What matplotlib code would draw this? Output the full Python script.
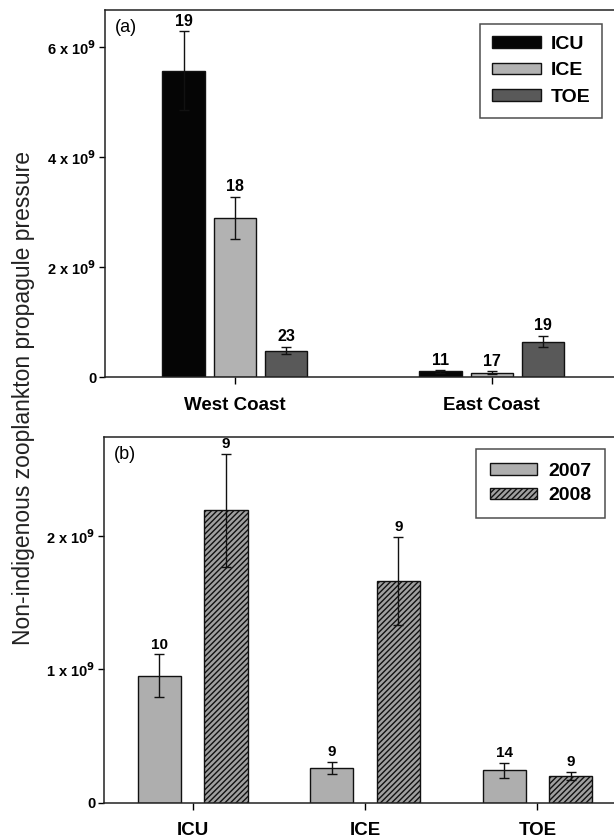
import numpy as np
import matplotlib
matplotlib.use("Agg")
import matplotlib.pyplot as plt
from matplotlib.ticker import FixedLocator, FixedFormatter

plt.rcParams['font.family'] = ['Liberation Sans', 'DejaVu Sans']
plt.rcParams['hatch.linewidth'] = 1.0
plt.rcParams['hatch.color'] = '#2b2b2b'

# panel (a) data
coasts = ['West Coast', 'East Coast']
a_series = ['ICU', 'ICE', 'TOE']
a_vals = {'ICU': [5.58e9, 0.11e9], 'ICE': [2.90e9, 0.09e9], 'TOE': [0.49e9, 0.65e9]}
a_err = {'ICU': [0.71e9, 0.02e9], 'ICE': [0.39e9, 0.02e9], 'TOE': [0.07e9, 0.10e9]}
a_n = {'ICU': [19, 11], 'ICE': [18, 17], 'TOE': [23, 19]}
a_colors = {'ICU': '#050505', 'ICE': '#b2b2b2', 'TOE': '#595959'}

# panel (b) data
vectors = ['ICU', 'ICE', 'TOE']
years = ['2007', '2008']
b_vals = {'2007': [0.95e9, 0.26e9, 0.24e9], '2008': [2.19e9, 1.66e9, 0.20e9]}
b_err = {'2007': [0.16e9, 0.045e9, 0.055e9], '2008': [0.425e9, 0.33e9, 0.03e9]}
b_n = {'2007': [10, 9, 14], '2008': [9, 9, 9]}

a_ticks = [0, 2e9, 4e9, 6e9]
a_ticklabels = ['0', r'2 x 10$^{\mathbf{9}}$', r'4 x 10$^{\mathbf{9}}$', r'6 x 10$^{\mathbf{9}}$']
b_ticks = [0, 1e9, 2e9]
b_ticklabels = ['0', r'1 x 10$^{\mathbf{9}}$', r'2 x 10$^{\mathbf{9}}$']

fig = plt.figure(figsize=(6.14, 8.4), dpi=100)
ax1 = fig.add_axes([105/614, 1-377.5/840, 1-105/614+0.01, 367.5/840])
ax2 = fig.add_axes([104/614, 1-802.5/840, 1-104/614+0.01, 365.5/840])

def style(ax):
    ax.spines['right'].set_visible(False)
    for s in ['left', 'bottom', 'top']:
        ax.spines[s].set_linewidth(1.1)
        ax.spines[s].set_color('#222222')
    ax.tick_params(axis='y', direction='out', length=4, width=1, pad=2)
    ax.tick_params(axis='x', direction='out', length=5, width=1, pad=9)
    for lab in ax.get_yticklabels():
        lab.set_fontsize(10.5)
        lab.set_fontweight('bold')
    for lab in ax.get_xticklabels():
        lab.set_fontsize(13.5)
        lab.set_fontweight('bold')

# ---- (a)
x = np.arange(len(coasts))
w = 0.165
for i, s in enumerate(a_series):
    xs = x + (i - 1) * 0.2
    ax1.bar(xs, a_vals[s], w, color=a_colors[s], edgecolor='#111111', linewidth=1.0, label=s, zorder=2)
    ax1.errorbar(xs, a_vals[s], yerr=a_err[s], fmt='none', ecolor='#111111', elinewidth=1.0,
                 capsize=3.5, capthick=1.0, zorder=3)
    for xi, v, e, n in zip(xs, a_vals[s], a_err[s], a_n[s]):
        ax1.annotate(str(n), (xi, v + e), xytext=(0, 2), textcoords='offset points',
                     ha='center', va='bottom', fontsize=11.5, fontweight='bold')
ax1.set_xlim(-0.506, 1.50)
ax1.set_ylim(0, 6.68e9)
ax1.set_xticks(x)
ax1.set_xticklabels(coasts)
ax1.yaxis.set_major_locator(FixedLocator(a_ticks))
ax1.yaxis.set_major_formatter(FixedFormatter(a_ticklabels))
style(ax1)
ax1.text(0.02, 0.975, '(a)', transform=ax1.transAxes, ha='left', va='top', fontsize=13)
leg1 = ax1.legend(loc='upper left', bbox_to_anchor=(371/509, 0.962), frameon=True, fancybox=False,
                  prop={'size': 14, 'weight': 'bold'}, handlelength=2.5, handleheight=0.55,
                  handletextpad=0.5, labelspacing=0.5, borderpad=0.6, borderaxespad=0)
leg1.get_frame().set_edgecolor('#222222')
leg1.get_frame().set_linewidth(1.1)

# ---- (b)
xb = np.arange(len(vectors))
wb = 0.25
b_style = {'2007': dict(color='#aeaeae', hatch=None), '2008': dict(color='#a0a0a0', hatch='//////')}
for i, yr in enumerate(years):
    xs = xb + (i - 0.5) * 0.386
    ax2.bar(xs, b_vals[yr], wb, color=b_style[yr]['color'], hatch=b_style[yr]['hatch'],
            edgecolor='#111111', linewidth=1.0, label=yr, zorder=2)
    ax2.errorbar(xs, b_vals[yr], yerr=b_err[yr], fmt='none', ecolor='#111111', elinewidth=1.0,
                 capsize=3.5, capthick=1.0, zorder=3)
    for xi, v, e, n in zip(xs, b_vals[yr], b_err[yr], b_n[yr]):
        ax2.annotate(str(n), (xi, v + e), xytext=(0, 2), textcoords='offset points',
                     ha='center', va='bottom', fontsize=11, fontweight='bold')
ax2.set_xlim(-0.515, 2.48)
ax2.set_ylim(0, 2.74e9)
ax2.set_xticks(xb)
ax2.set_xticklabels(vectors)
ax2.yaxis.set_major_locator(FixedLocator(b_ticks))
ax2.yaxis.set_major_formatter(FixedFormatter(b_ticklabels))
style(ax2)
ax2.text(0.02, 0.975, '(b)', transform=ax2.transAxes, ha='left', va='top', fontsize=13)
leg2 = ax2.legend(loc='upper left', bbox_to_anchor=(368/510, 0.967), frameon=True, fancybox=False,
                  prop={'size': 14, 'weight': 'bold'}, handlelength=2.4, handleheight=0.55,
                  handletextpad=0.6, labelspacing=0.4, borderpad=0.7, borderaxespad=0)
leg2.get_frame().set_edgecolor('#222222')
leg2.get_frame().set_linewidth(1.1)

fig.text(24/614, 0.526, 'Non-indigenous zooplankton propagule pressure', rotation=90,
         ha='center', va='center', fontsize=16.5, color='#222222')

fig.savefig('out.png', dpi=100)
